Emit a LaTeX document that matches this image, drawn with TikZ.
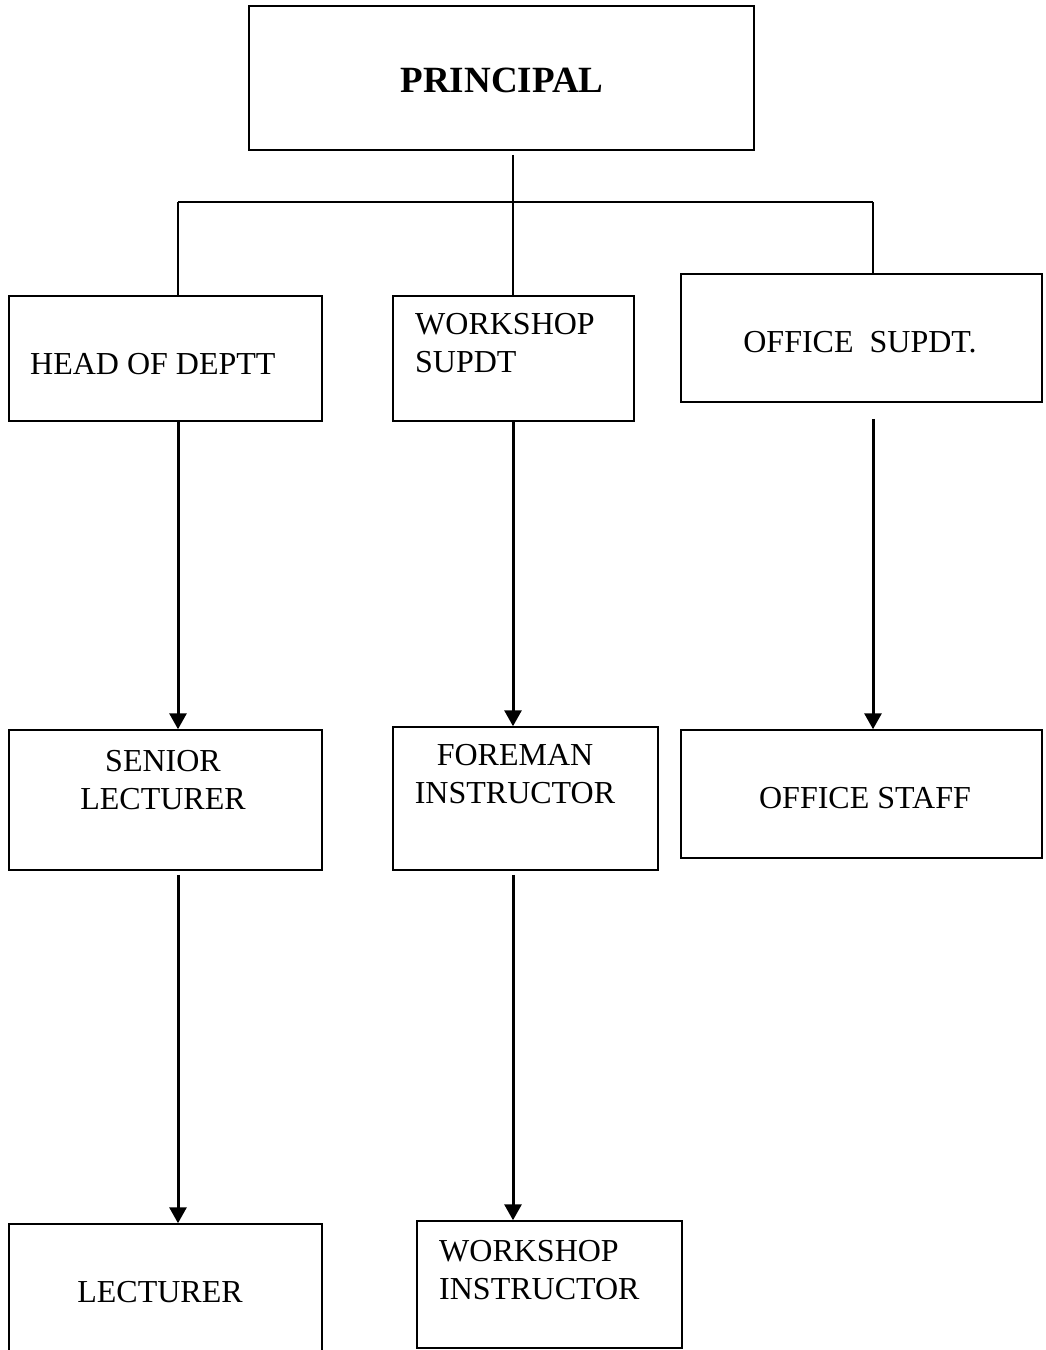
\documentclass[tikz,border=0pt]{standalone}
\usepackage{fontspec}
\setmainfont{Liberation Serif}
\usetikzlibrary{arrows.meta}

\tikzset{
    box/.style={draw, line width=1.5pt, inner sep=0pt},
    txt/.style={font=\fontsize{32}{38}\selectfont, inner sep=0pt},
    link/.style={line width=1.5pt},
    arr/.style={line width=3pt, -{Triangle[length=16pt,width=17pt]}}
}

\begin{document}
\begin{tikzpicture}[x=1pt, y=-1pt]
    \useasboundingbox (0,0) rectangle (1045,1350);

    % boxes
    \node[box, minimum width=505pt, minimum height=144pt] (principal) at (501.5,78) {};
    \node[box, minimum width=313pt, minimum height=125pt] (hod) at (165.5,358.5) {};
    \node[box, minimum width=241pt, minimum height=125pt] (wsupdt) at (513.5,358.5) {};
    \node[box, minimum width=361pt, minimum height=128pt] (osupdt) at (861.5,338) {};
    \node[box, minimum width=313pt, minimum height=140pt] (senior) at (165.5,800) {};
    \node[box, minimum width=265pt, minimum height=143pt] (foreman) at (525.5,798.5) {};
    \node[box, minimum width=361pt, minimum height=128pt] (ostaff) at (861.5,794) {};
    \node[box, minimum width=313pt, minimum height=140pt] (lecturer) at (165.5,1294) {};
    \node[box, minimum width=265pt, minimum height=127pt] (winstr) at (549.5,1284.5) {};

    % texts
    \node[txt, font=\fontsize{37}{44}\selectfont\bfseries] (principaltxt) at (502,80) {PRINCIPAL};
    \node[txt, anchor=west] (hodtxt) at (30,364) {HEAD OF DEPTT};
    \node[txt, anchor=west, align=left] (wsupdttxt) at (415,343) {WORKSHOP\\SUPDT};
    \node[txt] (osupdttxt) at (860,342) {OFFICE\ \ SUPDT.};
    \node[txt, align=center] (seniortxt) at (163,780) {SENIOR\\LECTURER};
    \node[txt, align=center] (foremantxt) at (515,774) {FOREMAN\\INSTRUCTOR};
    \node[txt] (ostafftxt) at (865,798) {OFFICE STAFF};
    \node[txt] (lecturertxt) at (160,1292) {LECTURER};
    \node[txt, anchor=west, align=left] (winstrtxt) at (439,1270) {WORKSHOP\\INSTRUCTOR};

    % columns and bar
    \coordinate (c1) at (178,0);
    \coordinate (c2) at (513,0);
    \coordinate (c3) at (873,0);
    \coordinate (bar) at (0,202);

    \draw[link] ([yshift=-4pt]principal.south -| c2) -- (wsupdt.north -| c2);
    \draw[link] (c1 |- bar) -- (c3 |- bar);
    \draw[link] (c1 |- bar) -- (hod.north -| c1);
    \draw[link] (c3 |- bar) -- (osupdt.north -| c3);

    % arrows
    \draw[arr] (hod.south -| c1) -- (senior.north -| c1);
    \draw[arr] (wsupdt.south -| c2) -- (foreman.north -| c2);
    \draw[arr] ([yshift=-16pt]osupdt.south -| c3) -- (ostaff.north -| c3);
    \draw[arr] ([yshift=-4pt]senior.south -| c1) -- (lecturer.north -| c1);
    \draw[arr] ([yshift=-4pt]foreman.south -| c2) -- (winstr.north -| c2);
\end{tikzpicture}
\end{document}
